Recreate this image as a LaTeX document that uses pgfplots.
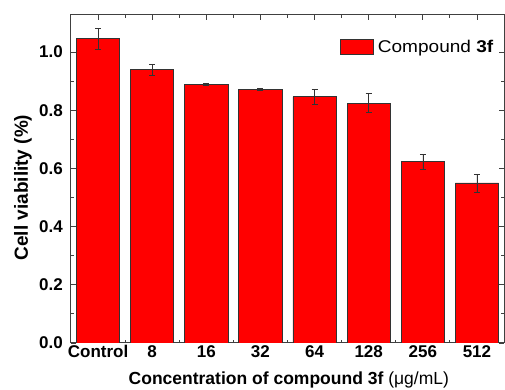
\documentclass[border=0pt]{standalone}
\usepackage{pgfplots}
\pgfplotsset{compat=1.18}
\usepackage{fontspec}
\setmainfont{Liberation Sans}
\newfontfamily\legfont{Liberation Sans}[FakeStretch=1.12]
\begin{document}
\begin{tikzpicture}
\begin{axis}[
  scale only axis,
  width=433pt, height=328pt,
  xmin=-0.5, xmax=7.5,
  ymin=0, ymax=1.127,
  ybar, bar width=0.8,
  xtick={0,...,7},
  xticklabels={Control,8,16,32,64,128,256,512},
  minor x tick num=1,
  ytick={0,0.2,0.4,0.6,0.8,1.0},
  minor y tick num=1,
  tick pos=both,
  tick align=inside,
  major tick length=5pt, minor tick length=3pt,
  axis line style={draw=black!75, line width=1pt},
  every tick/.style={black!75, line width=0.8pt},
  /pgf/number format/assume math mode=true,
  yticklabel={\pgfmathprintnumber[fixed,fixed zerofill,precision=1]{\tick}},
  ticklabel style={font=\fontsize{17}{19}\selectfont\bfseries, inner sep=0pt},
  xticklabel style={yshift=-2pt},
  yticklabel style={xshift=-8pt},
  xlabel={\textbf{Concentration of compound 3f} (μg/mL)},
  ylabel={\textbf{Cell viability (\%)}},
  xlabel style={font=\fontsize{17.5}{19}\selectfont, at={(axis description cs:0.503,-0.128)}, anchor=base},
  ylabel style={font=\fontsize{19}{21}\selectfont, at={(axis description cs:-0.1109,0.474)}, anchor=center},
  legend style={at={(axis description cs:0.621,0.931)}, anchor=north west, draw=none, fill=none, font=\legfont\fontsize{17}{19}\selectfont, inner sep=0pt},
  legend image code/.code={\draw[#1, fill=red, draw=black!80] (0pt,-7.5pt) rectangle (33pt,7.5pt);},
]
\addplot[fill=red, draw=black!80, line width=0.8pt,
  error bars/.cd, y dir=both, y explicit,
  error bar style={black!80, line width=0.6pt},
  error mark options={rotate=90, mark size=3pt, black!80, line width=0.6pt}]
  coordinates {
  (0,1.045) +- (0,0.036)
  (1,0.939) +- (0,0.020)
  (2,0.889) +- (0,0.003)
  (3,0.872) +- (0,0.004)
  (4,0.846) +- (0,0.025)
  (5,0.824) +- (0,0.033)
  (6,0.623) +- (0,0.025)
  (7,0.550) +- (0,0.031)
  };
\addlegendentry{\hspace{2pt}Compound \textbf{3f}}
\end{axis}
\pgfresetboundingbox
\path ([shift={(-71pt,-47pt)}]current axis.south west) rectangle ([shift={(1pt,15pt)}]current axis.north east);
\end{tikzpicture}
\end{document}
